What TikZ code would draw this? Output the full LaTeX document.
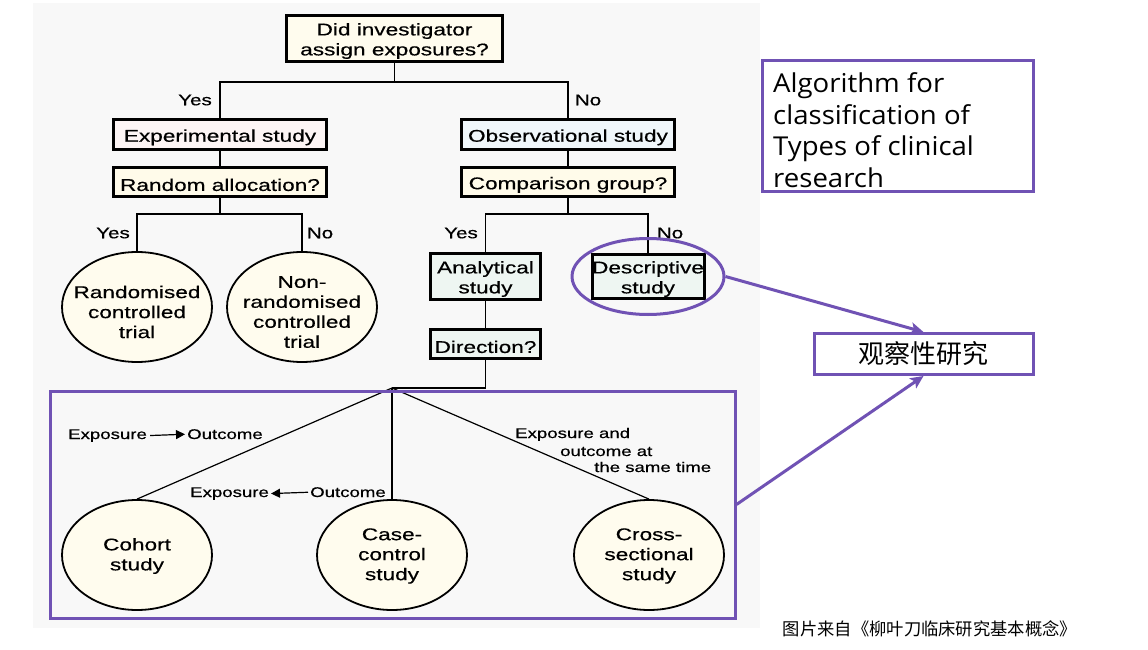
\documentclass[tikz,border=0pt]{standalone}
\usepackage{fontspec}
\usetikzlibrary{shapes.geometric,arrows.meta}
\newfontfamily\figfont[FakeStretch=1.33,FakeBold=0.5]{Liberation Sans}
\newfontfamily\titlefont[FakeStretch=1.06]{Open Sans}
\newfontfamily\cjkfont{Noto Sans CJK SC}
\definecolor{purp}{RGB}{112,82,180}
\definecolor{bggray}{RGB}{248,248,248}
\definecolor{cream}{RGB}{255,252,238}
\definecolor{pinkw}{RGB}{253,245,245}
\definecolor{bluew}{RGB}{240,247,251}
\definecolor{mintw}{RGB}{238,246,242}
\definecolor{creamb}{RGB}{255,251,234}
\begin{document}
\begin{tikzpicture}[x=1pt,y=-1pt,
  box/.style={draw=black, line width=3pt, inner sep=2pt, align=center, text=black,
    font=\figfont\fontsize{17}{20}\selectfont,
    execute at begin node={\rule{0pt}{18pt}}},
  emptybox/.style={draw=black, line width=3pt, inner sep=0pt},
  circ/.style={ellipse, draw=black, line width=1.8pt, fill=cream,
    minimum width=150pt, minimum height=110pt, inner sep=0pt},
  ctext/.style={align=center, inner sep=0pt, text=black, font=\figfont\fontsize{17}{20}\selectfont},
  conn/.style={line width=1.2pt, black},
  yn/.style={inner sep=0pt, font=\figfont\fontsize{15.5}{18}\selectfont},
  small/.style={inner sep=0pt, anchor=base west, font=\figfont\fontsize{14}{16}\selectfont},
  smallarrow/.style={line width=1.2pt, -{Triangle[length=9pt,width=9pt]}},
  pline/.style={draw=purp, line width=3pt},
  parrow/.style={draw=purp, line width=3pt, -{Stealth[length=13pt,width=12pt,inset=3pt]}},
  ttl/.style={inner sep=0pt, anchor=base west, font=\titlefont\fontsize{26}{31}\selectfont}
]
\useasboundingbox (0,0) rectangle (1148,650);
\fill[white] (0,0) rectangle (1148,650);
\fill[bggray] (33,3) rectangle (760,628);

% boxes
\node[emptybox, fill=cream, minimum width=216pt, minimum height=46pt] (top) at (394.5,38.5) {};
\node[ctext] (toptext) at (394.5,41) {Did investigator\\assign exposures?};
\node[box, fill=pinkw, minimum width=213pt, minimum height=30pt] (exp) at (220,134.5) {Experimental study};
\node[box, fill=creamb, minimum width=213pt, minimum height=29pt] (ra) at (220,182) {Random allocation?};
\node[box, fill=bluew, minimum width=213pt, minimum height=30pt] (obs) at (568,134.5) {Observational study};
\node[box, fill=creamb, minimum width=213pt, minimum height=29pt] (cg) at (568,182) {Comparison group?};
\node[emptybox, fill=mintw, minimum width=110pt, minimum height=46pt] (ana) at (485.5,276.5) {};
\node[ctext] (anatext) at (485.5,279) {Analytical\\study};
\node[emptybox, fill=mintw, minimum width=112pt, minimum height=44pt] (desc) at (648,276.5) {};
\node[ctext] (desctext) at (648,279) {Descriptive\\study};
\node[box, fill=mintw, minimum width=110pt, minimum height=29pt] (dir) at (485.5,344) {Direction?};

% circles
\node[circ] (rct) at (137,307) {};
\node[ctext] (rcttext) at (137,312) {Randomised\\controlled\\trial};
\node[circ] (nrct) at (302,307) {};
\node[ctext] (nrcttext) at (302,312) {Non-\\randomised\\controlled\\trial};
\node[circ] (coh) at (137,555) {};
\node[ctext] (cohtext) at (137,556) {Cohort\\study};
\node[circ] (cc) at (392,555) {};
\node[ctext] (cctext) at (392,556) {Case-\\control\\study};
\node[circ] (cs) at (649,555) {};
\node[ctext] (cstext) at (649,556) {Cross-\\sectional\\study};

% connectors
\coordinate (apex) at (392,388);
\draw[conn] (top.south) -- ++(0,19) -| (exp.north);
\draw[conn] (top.south) -- ++(0,19) -| (obs.north);
\draw[conn] (exp.south) -- (ra.north);
\draw[conn] (obs.south) -- (cg.north);
\draw[conn] (ra.south) -- ++(0,16) -| (rct.north);
\draw[conn] (ra.south) -- ++(0,16) -| (nrct.north);
\draw[conn] (cg.south) -- ++(0,16) -| (ana.north);
\draw[conn] (cg.south) -- ++(0,16) -| (desc.north);
\draw[conn] (ana.south) -- (dir.north);
\draw[conn] (dir.south) |- (apex);
\draw[conn] (apex) -- (coh.north);
\draw[conn] (apex) -- (cc.north);
\draw[conn] (apex) -- (cs.north);

% yes / no
\node[yn] (y1) at (195,100) {Yes};
\node[yn] (n1) at (588,100) {No};
\node[yn] (y2) at (113,233) {Yes};
\node[yn] (n2) at (320,233) {No};
\node[yn] (y3) at (461,233) {Yes};
\node[yn] (n3) at (670,233) {No};

% direction labels
\node[small] (e1) at (68,439) {Exposure};
\node[small] (o1) at (187,439) {Outcome};
\draw[smallarrow, shorten <=3pt, shorten >=2pt] (e1.east) -- (o1.west);
\node[small] (e2) at (190,497) {Exposure};
\node[small] (o2) at (310,497) {Outcome};
\draw[smallarrow, shorten <=2pt, shorten >=2pt] (o2.west) -- (e2.east);
\node[small] (s1) at (515,438) {Exposure and};
\node[small] (s2) at (560,456) {outcome at};
\node[small] (s3) at (594,472) {the same time};

% purple annotations
\node[pline, minimum width=685pt, minimum height=227pt, inner sep=0pt] (bigbox) at (392.5,504.5) {};
\node[pline, ellipse, minimum width=152pt, minimum height=76pt, inner sep=0pt] (ring) at (648,276.5) {};

\node[ttl] (t1) at (773,93) {Algorithm for};
\node[ttl] (t2) at (773,124.5) {classification of};
\node[ttl] (t3) at (773,156) {Types of clinical};
\node[ttl] (t4) at (773,187.5) {research};
\node[pline, minimum width=271pt, minimum height=130pt, inner sep=0pt] (titlebox) at (897.5,126) {};

\node[pline, fill=white, minimum width=219pt, minimum height=41pt, inner sep=0pt,
  font=\cjkfont\fontsize{26}{30}\selectfont] (obsbox) at (923.5,354) {观察性研究};
\draw[parrow] (ring.east) -- (obsbox.north);
\draw[parrow] (bigbox.east) -- (obsbox.south);

\node[inner sep=0pt, text=black, font=\cjkfont\fontsize{17.3}{20}\selectfont] (cap) at (930,629) {图片来自《柳叶刀临床研究基本概念》};
\end{tikzpicture}
\end{document}
